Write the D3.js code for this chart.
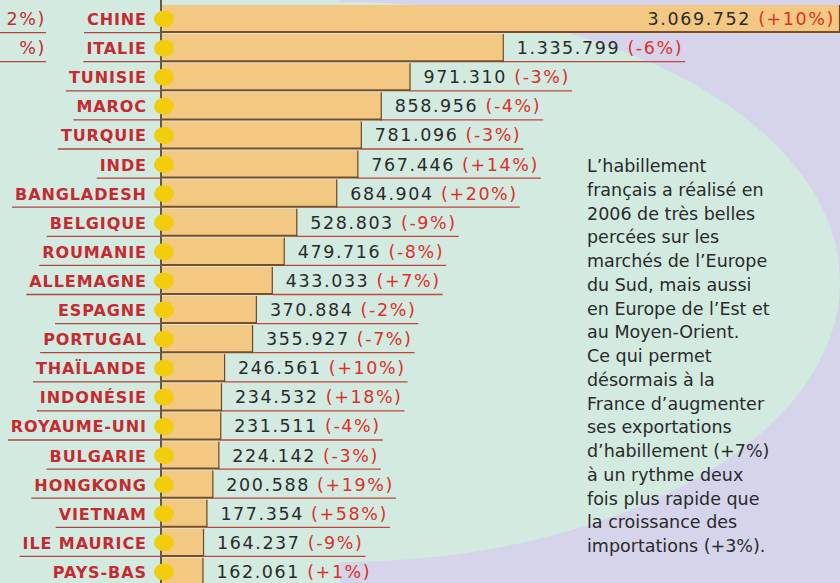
<!DOCTYPE html>
<html>
<head>
<meta charset="utf-8">
<script src="https://cdn.jsdelivr.net/npm/d3@7"></script>
<style>
  body { margin: 0; overflow: hidden; }
</style>
</head>
<body>
<div id="chart"></div>
<script>
const width = 840;
const height = 583;

// data
const countries = ["CHINE", "ITALIE", "TUNISIE", "MAROC", "TURQUIE", "INDE", "BANGLADESH", "BELGIQUE",
  "ROUMANIE", "ALLEMAGNE", "ESPAGNE", "PORTUGAL", "THAÏLANDE", "INDONÉSIE", "ROYAUME-UNI",
  "BULGARIE", "HONGKONG", "VIETNAM", "ILE MAURICE", "PAYS-BAS"];
const values = [3069752, 1335799, 971310, 858956, 781096, 767446, 684904, 528803, 479716, 433033,
  370884, 355927, 246561, 234532, 231511, 224142, 200588, 177354, 164237, 162061];
const changes = ["+10%", "-6%", "-3%", "-4%", "-3%", "+14%", "+20%", "-9%", "-8%", "+7%",
  "-2%", "-7%", "+10%", "+18%", "-4%", "-3%", "+19%", "+58%", "-9%", "+1%"];
const noteLines = ["L’habillement", "français a réalisé en", "2006 de très belles", "percées sur les",
  "marchés de l’Europe", "du Sud, mais aussi", "en Europe de l’Est et", "au Moyen-Orient.",
  "Ce qui permet", "désormais à la", "France d’augmenter", "ses exportations",
  "d’habillement (+7%)", "à un rythme deux", "fois plus rapide que", "la croissance des",
  "importations (+3%)."];
// cropped bits of the neighbouring panel
const cutLabels = ["2%)", "%)"];

const data = countries.map((c, i) => ({country: c, value: values[i], change: changes[i]}));

const svg = d3.select("#chart")
  .append("svg")
  .attr("width", width)
  .attr("height", height)
  .attr("viewBox", [0, 0, width, height]);

// background
svg.append("rect").attr("width", width).attr("height", height).attr("fill", "#d5d4ea");
svg.append("rect").attr("width", 340).attr("height", height).attr("fill", "#d2eae0");
svg.append("ellipse")
  .attr("cx", 340).attr("cy", 282).attr("rx", 500).attr("ry", 280)
  .attr("fill", "#d2eae0");

const x0 = 162;
const x = d3.scaleLinear()
  .domain([0, 2650000])
  .range([x0, width])
  .clamp(true);

const y = d3.scaleBand()
  .domain(countries)
  .range([4, 4 + 29.1 * countries.length])
  .padding(0);

const fr = d3.formatLocale({decimal: ",", thousands: ".", grouping: [3], currency: ["", " €"]});
const fmt = fr.format(",d");

// axis line
svg.append("line")
  .attr("x1", x0 - 1).attr("x2", x0 - 1)
  .attr("y1", 0).attr("y2", height)
  .attr("stroke", "#3a2a1a").attr("stroke-width", 1.5);

const rows = svg.selectAll(".row")
  .data(data)
  .enter()
  .append("g")
  .attr("class", "row")
  .attr("transform", d => `translate(0,${y(d.country)})`);

const bh = y.bandwidth();

// bars
rows.append("rect")
  .attr("x", x0)
  .attr("y", 1)
  .attr("width", d => x(d.value) - x0)
  .attr("height", bh - 2)
  .attr("fill", "#f2c882");
rows.append("line")
  .attr("x1", x0).attr("x2", d => x(d.value))
  .attr("y1", bh - 1).attr("y2", bh - 1)
  .attr("stroke", "#7d4d25").attr("stroke-width", 2);
rows.append("line")
  .attr("x1", d => x(d.value) - 0.5).attr("x2", d => x(d.value) - 0.5)
  .attr("y1", 1).attr("y2", bh)
  .attr("stroke", "#6a4a2a").attr("stroke-width", 1.2);

// yellow dots
rows.append("ellipse")
  .attr("cx", x0 + 2)
  .attr("cy", bh / 2 + 0.5)
  .attr("rx", 10).attr("ry", 8.5)
  .attr("fill", "#f1cd0e");

// country labels
const labLS = 0.9;
const labels = rows.append("text")
  .attr("x", 146 + labLS)
  .attr("y", bh / 2 + 6.5)
  .attr("text-anchor", "end")
  .attr("font-family", "DejaVu Sans")
  .attr("font-weight", "bold")
  .attr("font-size", "16px")
  .attr("letter-spacing", labLS + "px")
  .attr("fill", "#c42a30")
  .text(d => d.country);

labels.each(function(d) {
  d.labelW = this.getComputedTextLength();
});
rows.insert("line", "text")
  .attr("x1", d => 146 + labLS - d.labelW - 3).attr("x2", x0 - 1)
  .attr("y1", bh - 0.5).attr("y2", bh - 0.5)
  .attr("stroke", "#b0443c").attr("stroke-width", 1.3);

// value labels
const vals = rows.append("text")
  .attr("y", bh / 2 + 6.5)
  .attr("font-family", "DejaVu Sans")
  .attr("font-size", "17.5px")
  .attr("letter-spacing", "1.6px");
vals.append("tspan")
  .attr("fill", "#2b2b2b")
  .text(d => fmt(d.value) + " ");
vals.append("tspan")
  .attr("fill", "#dd3028")
  .text(d => "(" + d.change + ")");

vals.each(function(d) {
  const w = this.getComputedTextLength();
  const end = x(d.value);
  if (end >= width) {
    d3.select(this).attr("x", width - 5 - w);
    d.valEnd = null;
  } else {
    d3.select(this).attr("x", end + 13);
    d.valEnd = end + 13 + w + 2;
  }
});
rows.filter(d => d.valEnd !== null)
  .insert("line", "text")
  .attr("x1", d => x(d.value)).attr("x2", d => d.valEnd)
  .attr("y1", bh - 0.5).attr("y2", bh - 0.5)
  .attr("stroke", "#c0453a").attr("stroke-width", 1.3);

// cropped labels at far left
cutLabels.forEach((t, i) => {
  svg.append("text")
    .attr("x", 46).attr("y", y(countries[i]) + bh / 2 + 6.5)
    .attr("text-anchor", "end")
    .attr("font-family", "DejaVu Sans")
    .attr("font-size", "17.5px")
    .attr("letter-spacing", "1.6px")
    .attr("fill", "#c42a30")
    .text(t);
  svg.append("line")
    .attr("x1", 0).attr("x2", 46)
    .attr("y1", y(countries[i]) + bh - 0.5).attr("y2", y(countries[i]) + bh - 0.5)
    .attr("stroke", "#b0443c").attr("stroke-width", 1.3);
});

// note
svg.append("text")
  .attr("font-family", "DejaVu Sans")
  .attr("font-size", "17.5px")
  .attr("fill", "#2a2a2a")
  .selectAll("tspan")
  .data(noteLines)
  .enter()
  .append("tspan")
  .attr("x", 587)
  .attr("y", (d, i) => 172 + i * 23.75)
  .text(d => d);
</script>
</body>
</html>
